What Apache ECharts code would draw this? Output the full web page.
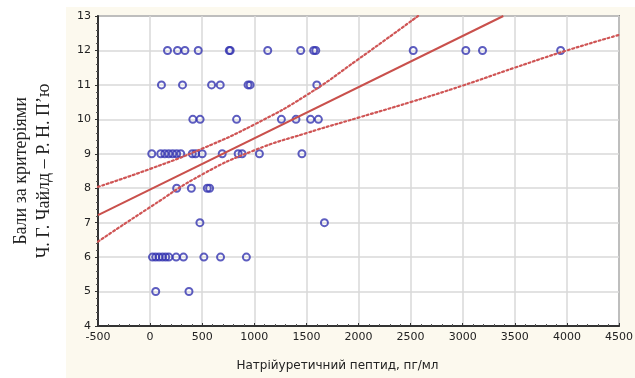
<!DOCTYPE html>
<html>
<head>
<meta charset="utf-8">
<script src="https://cdn.jsdelivr.net/npm/echarts@6/dist/echarts.min.js"></script>
<style>
  html, body { margin: 0; padding: 0; background: #fff; }
  #chart { width: 635px; height: 378px; }
</style>
</head>
<body>
<div id="chart"></div>
<script>
  // точки: бали за рівнями (ось Y) і значення пептиду (ось X)
  var score12 = [167, 263, 334, 462, 760, 769, 1129, 1445, 1570, 1590, 2525, 3030, 3190, 3940];
  var score11 = [109, 311, 590, 673, 940, 960, 1600];
  var score10 = [410, 480, 830, 1260, 1400, 1540, 1615];
  var score9 = [16, 102, 141, 179, 217, 255, 294, 405, 437, 500, 692, 845, 883, 1049, 1457];
  var score8 = [255, 396, 549, 571];
  var score7 = [478, 1673];
  var score6 = [23, 54, 86, 119, 150, 180, 250, 320, 516, 676, 924];
  var score5 = [54, 373];

  // лінія регресії та межі довірчого інтервалу
  var fitLine = [[-500, 7.22], [3390, 13]];
  var upperBand = [[-500, 8.04], [0, 8.56], [500, 9.15], [1000, 9.85], [1500, 10.7], [2000, 11.75], [2571, 13]];
  var lowerBand = [[-500, 6.45], [0, 7.45], [500, 8.4], [1000, 9.1], [1500, 9.6], [2000, 10.05], [2500, 10.5], [3000, 10.98], [3500, 11.5], [4000, 12.0], [4500, 12.45]];

  var xTicks = { min: -500, max: 4500, step: 500 };
  var yTicks = { min: 4, max: 13, step: 1 };

  var levels = [[12, score12], [11, score11], [10, score10], [9, score9], [8, score8], [7, score7], [6, score6], [5, score5]];
  var points = [];
  levels.forEach(function (lv) {
    lv[1].forEach(function (x) { points.push([x, lv[0]]); });
  });

  var chart = echarts.init(document.getElementById('chart'));
  var tickFont = { color: '#222', fontSize: 11, fontFamily: 'DejaVu Sans', fontWeight: 'normal' };
  var bandStyle = { color: '#cf5555', width: 2.2, type: [2, 2.6], cap: 'round' };

  chart.setOption({
    animation: false,
    backgroundColor: '#fff',
    graphic: [{
      type: 'rect', z: -10, silent: true,
      shape: { x: 66, y: 7, width: 569, height: 371 },
      style: { fill: '#fcf9ee' }
    }],
    grid: {
      left: 98, right: 16, top: 16, bottom: 52,
      outerBoundsMode: 'none', containLabel: false,
      show: true, backgroundColor: '#fff', borderColor: '#444', borderWidth: 1.5
    },
    xAxis: {
      type: 'value', min: xTicks.min, max: xTicks.max, interval: xTicks.step,
      name: 'Натрійуретичний пептид, пг/мл',
      nameLocation: 'middle', nameGap: 34,
      nameTextStyle: { color: '#222', fontSize: 12, fontFamily: 'DejaVu Sans', padding: [0, 42, 0, 0] },
      axisLine: { show: true, onZero: false, lineStyle: { color: '#333', width: 2 } },
      axisTick: { show: true, inside: true, length: 3, lineStyle: { color: '#333' } },
      minorTick: { show: true, splitNumber: 5, length: 2, lineStyle: { color: '#555' } },
      axisLabel: Object.assign({ margin: 6, formatter: function (v) { return String(v); } }, tickFont),
      splitLine: { show: true, lineStyle: { color: '#d8d8d8', width: 1.5 } }
    },
    yAxis: {
      type: 'value', min: yTicks.min, max: yTicks.max, interval: yTicks.step,
      name: 'Бали за критеріями\nЧ. Г. Чайлд – Р. Н. П’ю',
      nameLocation: 'middle', nameGap: 42, nameRotate: 90,
      nameTextStyle: { color: '#222', fontSize: 18, fontFamily: 'Liberation Serif', lineHeight: 23 },
      axisLine: { show: true, onZero: false, lineStyle: { color: '#333', width: 2 } },
      axisTick: { show: true, length: 3, lineStyle: { color: '#333' } },
      minorTick: { show: true, splitNumber: 5, length: 2, lineStyle: { color: '#555' } },
      axisLabel: Object.assign({ margin: 7 }, tickFont),
      splitLine: { show: true, lineStyle: { color: '#d8d8d8', width: 1.5 } }
    },
    series: [
      {
        type: 'line', data: upperBand, smooth: true, symbol: 'none',
        lineStyle: bandStyle
      },
      {
        type: 'line', data: lowerBand, smooth: true, symbol: 'none',
        lineStyle: bandStyle
      },
      {
        type: 'line', data: fitLine, symbol: 'none',
        lineStyle: { color: '#c9504c', width: 2 }
      },
      {
        type: 'scatter', data: points, symbol: 'circle', symbolSize: 7,
        itemStyle: { color: 'rgba(255,255,255,0)', borderColor: '#3535b0', borderWidth: 2 }
      }
    ]
  });
</script>
</body>
</html>
